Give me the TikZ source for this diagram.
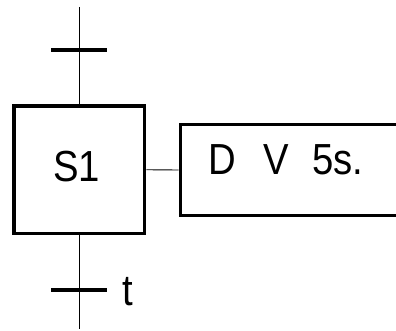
\documentclass[tikz,border=0pt]{standalone}
\usepackage{fontspec}
\setmainfont{Liberation Sans}
\begin{document}
\begin{tikzpicture}[x=1pt,y=-1pt,
  stepbox/.style={draw=black,line width=3.6pt,minimum width=130.5pt,minimum height=127.5pt,inner sep=0pt},
  actbox/.style={draw=black,line width=3.8pt,minimum width=221.5pt,minimum height=91pt,inner sep=0pt},
  transbar/.style={fill=black,draw=none,minimum width=56pt,minimum height=4pt,inner sep=0pt},
  lbl/.style={inner sep=0pt,font=\fontsize{43.5}{43.5}\selectfont,xscale=0.88,transform shape},
  thin/.style={draw=black,line width=0.9pt}]
\clip (0,0) rectangle (396,331);
\fill[white] (0,0) rectangle (396,331);
\coordinate (top) at (79.25,7);
\coordinate (bot) at (79.25,329);
\node[stepbox] (s1) at (79.25,169.75) {};
\node[actbox] (act) at (291.25,170) {};
\draw[thin] (top) -- (s1.north);
\draw[thin] (s1.south) -- (bot);
\draw[thin] (s1.east) -- (act.west);
\node[transbar] (tr1) at (79.25,50.5) {};
\node[transbar] (tr2) at (79.25,290) {};
\node[lbl,anchor=base] (s1t) at (76.5,181.7) {S1};
\node[lbl,anchor=base west] (actt) at (208.5,175) {D\hspace{0.72em}V\hspace{0.6em}5s.};
\node[lbl,anchor=base west] (tl) at (122.6,305) {t};
\end{tikzpicture}
\end{document}
